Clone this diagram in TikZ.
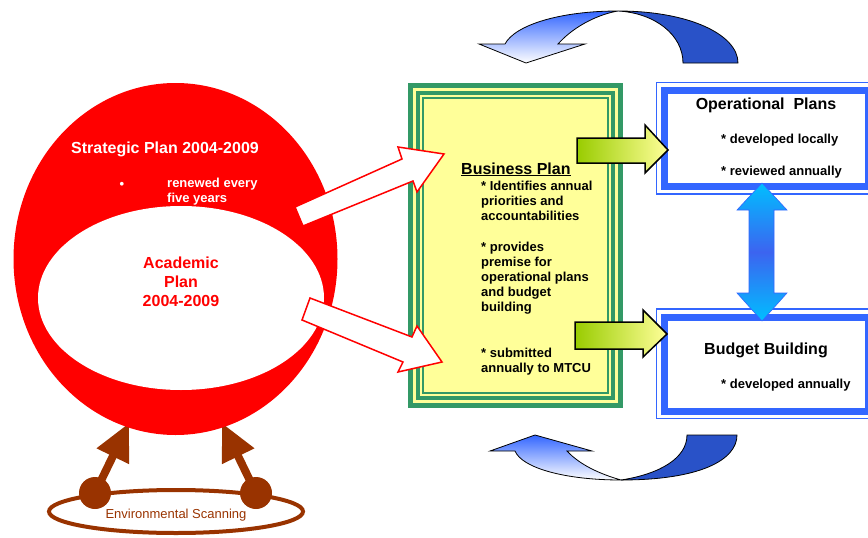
\documentclass[tikz,border=0pt]{standalone}
\usepackage{fontspec}
\setmainfont{Liberation Sans}
\usetikzlibrary{arrows.meta,shapes.geometric}
\definecolor{myred}{RGB}{255,0,0}
\definecolor{brownc}{RGB}{153,51,0}
\definecolor{bgreen}{RGB}{51,153,102}
\definecolor{lyellow}{RGB}{255,255,153}
\definecolor{bblue}{RGB}{51,102,255}
\definecolor{dblue}{RGB}{41,82,200}
\definecolor{cyanb}{RGB}{0,190,255}
\definecolor{midb}{RGB}{60,100,240}
\definecolor{lgreen}{RGB}{153,204,0}
\begin{document}
\begin{tikzpicture}[x=1pt,y=-1pt,
  txt/.style={inner sep=0pt, font=\bfseries\fontsize{13}{15}\selectfont, align=left},
  head/.style={inner sep=0pt, font=\bfseries\fontsize{16}{19}\selectfont},
  whitearrow/.style={fill=white, draw=myred, line width=1.5, line join=miter},
  greenarrow/.style={left color=lgreen, right color=lyellow, draw=black, line width=1.5, line join=miter},
  curvedark/.style={fill=dblue, draw=black, line width=0.8},
  curvelight/.style={top color=bblue, bottom color=white, draw=black, line width=0.8},
  browndot/.style={circle, fill=brownc, minimum size=32, inner sep=0pt},
  brownarrow/.style={brownc, line width=8, -{Triangle[length=37pt,width=34pt]}},
  thinblue/.style={draw=bblue, line width=1.5},
  thickblue/.style={draw=bblue, line width=7, fill=white}
]
\useasboundingbox (0,0) rectangle (868,538);

% --- environmental scanning ---
\node[ellipse, draw=brownc, line width=4, minimum width=254, minimum height=43, inner sep=0pt] (scan) at (176,511.5) {};
\node[inner sep=0pt, anchor=base, text=brownc, font=\fontsize{13}{15}\selectfont] (scantxt) at (176,518) {Environmental Scanning};
\node[browndot] (dotL) at (95,493) {};
\node[browndot] (dotR) at (256,493) {};
\coordinate (tipL) at (129,423);
\coordinate (tipR) at (222,423);
\draw[brownarrow] (dotL.center) -- (tipL);
\draw[brownarrow] (dotR.center) -- (tipR);

% --- strategic / academic plan ---
\node[ellipse, fill=myred, minimum width=324, minimum height=352, inner sep=0pt] (strat) at (175.5,259) {};
\node[ellipse, fill=white, minimum width=286, minimum height=184, inner sep=0pt] (acad) at (181,298) {};
\node[head, anchor=base, text=white] (strattxt) at (165,153) {Strategic Plan 2004-2009};
\node[txt, anchor=base, text=white] (bullet) at (122,188) {•};
\node[txt, anchor=north west, text=white] (renew) at (167,178) {renewed every\\five years};
\node[head, anchor=north, text=myred, align=center] (acadtxt) at (181,257) {Academic\\Plan\\2004-2009};

% --- business plan box ---
\fill[bgreen] (408,83) rectangle (623,408);
\fill[lyellow] (413,88) rectangle (618,403);
\fill[bgreen] (416,91) rectangle (615,400);
\fill[lyellow] (420,95) rectangle (611,396);
\fill[bgreen] (422,97) rectangle (609,394);
\fill[lyellow] (424,99) rectangle (607,392);
\node[head, anchor=base west] (bpt) at (461,174) {\underline{Business Plan}};
\node[txt, anchor=north west] (bp1) at (481,181) {* Identifies annual\\priorities and\\accountabilities};
\node[txt, anchor=north west] (bp2) at (481,242) {* provides\\premise for\\operational plans\\and budget\\building};
\node[txt, anchor=north west] (bp3) at (481,348) {* submitted\\annually to MTCU};

% --- operational plans box ---
\draw[thinblue] (656.5,82.5) rectangle (874,194);
\draw[thickblue] (664,90) rectangle (868,186.5);
\node[head, anchor=base] (opt) at (766,109) {Operational\ \ Plans};
\node[txt, anchor=base west] (op1) at (721,143) {* developed locally};
\node[txt, anchor=base west] (op2) at (721,175) {* reviewed annually};

% --- budget building box ---
\draw[thinblue] (656.5,309) rectangle (874,418.5);
\draw[thickblue] (664,317) rectangle (868,411);
\node[head, anchor=base] (bbt) at (766,354) {Budget Building};
\node[txt, anchor=base west] (bb1) at (721,388) {* developed annually};

% --- white block arrows ---
\path[whitearrow] (295,207) -- (402,159) -- (398,147) -- (444,154) -- (417,192) -- (413,181) -- (303,226) -- cycle;
\path[whitearrow] (310,298) -- (412,337) -- (417,326) -- (442,362) -- (398,372) -- (403,362) -- (302,320) -- cycle;

% --- green block arrows ---
\path[greenarrow] (577,138) -- (645,138) -- (645,125) -- (668,150) -- (645,173) -- (645,163) -- (577,163) -- cycle;
\path[greenarrow] (575,322) -- (643,322) -- (643,310) -- (667,334) -- (643,357) -- (643,349) -- (575,349) -- cycle;

% --- blue double arrow ---
\path[top color=cyanb, bottom color=cyanb, middle color=midb, draw=bblue, line width=0.6]
  (762,183) -- (787,210) -- (774,210) -- (774,293) -- (787,293) -- (762,321) -- (737,293) -- (749,293) -- (749,210) -- (737,210) -- cycle;

% --- top curved arrow ---
\path[curvedark] (618,11) .. controls (690,11) and (738,35) .. (738,63) -- (683,63) .. controls (683,35) and (655,13) .. (618,11) -- cycle;
\path[curvelight] (618,11) .. controls (560,11) and (515,25) .. (505,44) -- (479,44) -- (526,63) -- (585,44) -- (558,44) .. controls (575,25) and (600,14) .. (618,11) -- cycle;

% --- bottom curved arrow ---
\path[curvedark] (621,480) .. controls (700,480) and (737,460) .. (737,435) -- (687,435) .. controls (687,458) and (660,474) .. (621,480) -- cycle;
\path[curvelight] (621,480) .. controls (565,480) and (522,468) .. (515,451) -- (490,451) -- (535,435) -- (592,451) -- (567,451) .. controls (580,465) and (600,474) .. (621,480) -- cycle;
\end{tikzpicture}
\end{document}
